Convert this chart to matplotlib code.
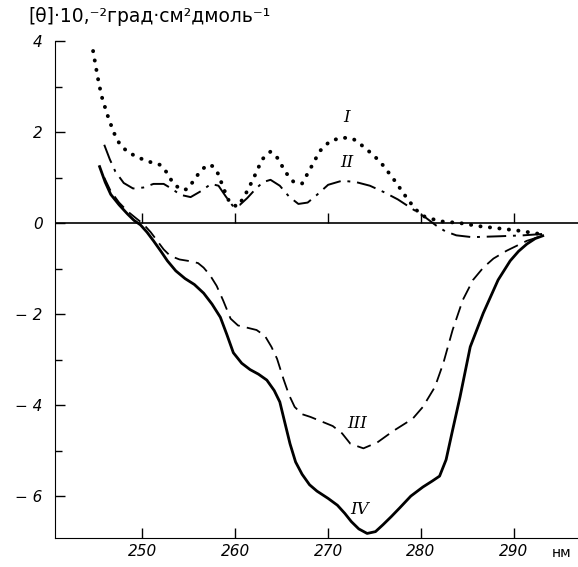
import matplotlib
matplotlib.use("Agg")
import matplotlib.pyplot as plt

# curve I (dotted)
wl_1 = [244.7, 245.2, 245.6, 246.2, 246.9, 247.6, 248.5, 249.8, 251.0, 251.9, 252.6, 253.3,
        254.1, 254.8, 255.5, 256.2, 257.0, 257.6, 258.2, 258.7, 259.4, 260.2, 260.9, 261.9,
        262.9, 263.8, 264.6, 265.4, 266.3, 267.2, 268.1, 269.1, 270.2, 271.5, 272.7, 274.0,
        275.6, 277.0, 278.3, 279.4, 280.4, 282.0, 284.2, 286.3, 288.5, 290.6, 292.8]
th_1 = [3.78, 3.2, 2.8, 2.4, 2.0, 1.72, 1.55, 1.42, 1.33, 1.28, 1.12, 0.88,
        0.74, 0.74, 0.92, 1.13, 1.28, 1.25, 1.07, 0.78, 0.45, 0.36, 0.55, 0.95,
        1.40, 1.57, 1.42, 1.12, 0.90, 0.87, 1.20, 1.58, 1.80, 1.88, 1.85, 1.65,
        1.35, 0.98, 0.60, 0.30, 0.14, 0.04, 0.00, -0.07, -0.12, -0.17, -0.24]

# curve II (dash-dot)
wl_2 = [245.9, 246.5, 247.1, 248.0, 249.0, 250.1, 251.2, 252.3, 253.2, 254.1, 255.2, 256.3,
        257.4, 258.2, 259.0, 259.8, 260.5, 261.3, 262.2, 263.0, 263.8, 264.8, 265.8, 266.8,
        267.8, 268.8, 270.0, 271.5, 273.0, 274.5, 276.0, 277.5, 279.0, 280.5, 281.6, 282.6,
        283.8, 285.5, 288.5, 291.0, 293.1]
th_2 = [1.72, 1.40, 1.13, 0.88, 0.76, 0.78, 0.86, 0.86, 0.75, 0.62, 0.57, 0.70,
        0.86, 0.82, 0.58, 0.36, 0.40, 0.55, 0.75, 0.90, 0.95, 0.82, 0.58, 0.42,
        0.45, 0.62, 0.84, 0.93, 0.90, 0.82, 0.68, 0.52, 0.32, 0.12, -0.05, -0.18,
        -0.27, -0.31, -0.29, -0.27, -0.24]

# curve III (dashed)
wl_3 = [245.9, 246.6, 247.5, 248.4, 249.3, 250.1, 250.9, 251.6, 252.3, 253.0, 254.0, 255.2,
        256.0, 256.6, 257.3, 258.0, 258.7, 259.5, 260.3, 261.3, 262.3, 263.2, 263.9, 264.5,
        265.2, 265.8, 266.4, 267.2, 268.1, 269.3, 270.5, 271.5, 272.4, 273.8, 275.3, 277.0,
        279.1, 280.2, 281.5, 282.4, 283.4, 284.5, 285.6, 286.7, 287.8, 289.2, 291.4, 293.1]
th_3 = [1.00, 0.70, 0.45, 0.26, 0.11, -0.02, -0.20, -0.39, -0.58, -0.72, -0.80, -0.84,
        -0.88, -0.98, -1.15, -1.38, -1.70, -2.10, -2.25, -2.30, -2.35, -2.48, -2.72, -2.98,
        -3.43, -3.78, -4.04, -4.20, -4.26, -4.36, -4.46, -4.62, -4.85, -4.95, -4.82, -4.57,
        -4.30, -4.04, -3.60, -3.08, -2.35, -1.69, -1.25, -0.98, -0.78, -0.61, -0.39, -0.28]

# curve IV (solid)
wl_4 = [245.4, 246.0, 246.6, 247.5, 248.4, 249.1, 249.8, 250.5, 251.2, 252.0, 252.7, 253.6,
        254.6, 255.6, 256.6, 257.5, 258.4, 259.1, 259.8, 260.7, 261.6, 262.5, 263.4, 264.2,
        264.8, 265.3, 265.9, 266.5, 267.2, 268.0, 268.8, 270.0, 271.0, 271.8, 272.5, 273.3,
        274.2, 275.1, 275.9, 276.8, 277.7, 278.9, 280.2, 281.2, 282.0, 282.7, 283.4, 284.2,
        285.3, 286.7, 288.3, 289.6, 290.5, 291.4, 292.3, 293.1]
th_4 = [1.24, 0.90, 0.63, 0.40, 0.20, 0.06, -0.04, -0.20, -0.39, -0.62, -0.83, -1.05,
        -1.22, -1.35, -1.54, -1.78, -2.07, -2.45, -2.85, -3.08, -3.22, -3.32, -3.45, -3.68,
        -3.93, -4.35, -4.85, -5.25, -5.52, -5.75, -5.89, -6.05, -6.20, -6.38, -6.56, -6.72,
        -6.82, -6.78, -6.63, -6.45, -6.26, -6.00, -5.80, -5.67, -5.56, -5.20, -4.55, -3.82,
        -2.72, -1.98, -1.25, -0.83, -0.62, -0.46, -0.34, -0.28]

x_ticks = [250, 260, 270, 280, 290]
y_ticks = [4, 2, 0, -2, -4, -6]
y_labels = ["4", "2", "0", "\u2212 2", "\u2212 4", "\u2212 6"]
curve_labels = [("I", 272.0, 2.33), ("II", 272.0, 1.32), ("III", 273.1, -4.4), ("IV", 273.4, -6.3)]

fig = plt.figure(figsize=(5.78, 5.67), dpi=100)
ax = fig.add_axes([55 / 578, 1 - 538 / 567, 1 - 55 / 578, (538 - 41) / 567])

ax.plot(wl_1, th_1, color="black", lw=2.8, linestyle=(0, (0.05, 2.4)), dash_capstyle="round")
ax.plot(wl_2, th_2, color="black", lw=1.4, linestyle=(0, (10, 3.5, 1.5, 3.5)))
ax.plot(wl_3, th_3, color="black", lw=1.3, linestyle=(0, (8, 4)))
ax.plot(wl_4, th_4, color="black", lw=2.0)

ax.axhline(0, color="black", lw=1.2)
ax.vlines(x_ticks, 0, 0.22, color="black", lw=1.0)

for name, x, y in curve_labels:
    ax.text(x, y, name, family="DejaVu Serif", style="italic", fontsize=12,
            ha="center", va="center")

ax.set_xlim(240.6, 296.9)
ax.set_ylim(-6.92, 3.98)
ax.spines["top"].set_visible(False)
ax.spines["right"].set_visible(False)

ax.set_xticks(x_ticks)
ax.set_xticklabels([str(v) for v in x_ticks], style="italic", fontsize=11)
ax.set_yticks(y_ticks)
ax.set_yticklabels(y_labels, style="italic", fontsize=11)
ax.set_yticks([3, 1, -1, -3, -5], minor=True)
ax.tick_params(axis="both", direction="in", length=7, width=1)
ax.tick_params(axis="y", which="minor", direction="in", length=5, width=1)
ax.tick_params(axis="y", pad=9)
ax.tick_params(axis="x", pad=4)

fig.text(562 / 578, 1 - 553 / 567, "нм", fontsize=10, ha="center", va="center")
fig.text(28 / 578, 1 - 16 / 567, "[θ]·10,\u207b\u00b2град·см\u00b2дмоль\u207b\u00b9",
         fontsize=13.5, ha="left", va="center")

plt.savefig("out.png", dpi=100)
